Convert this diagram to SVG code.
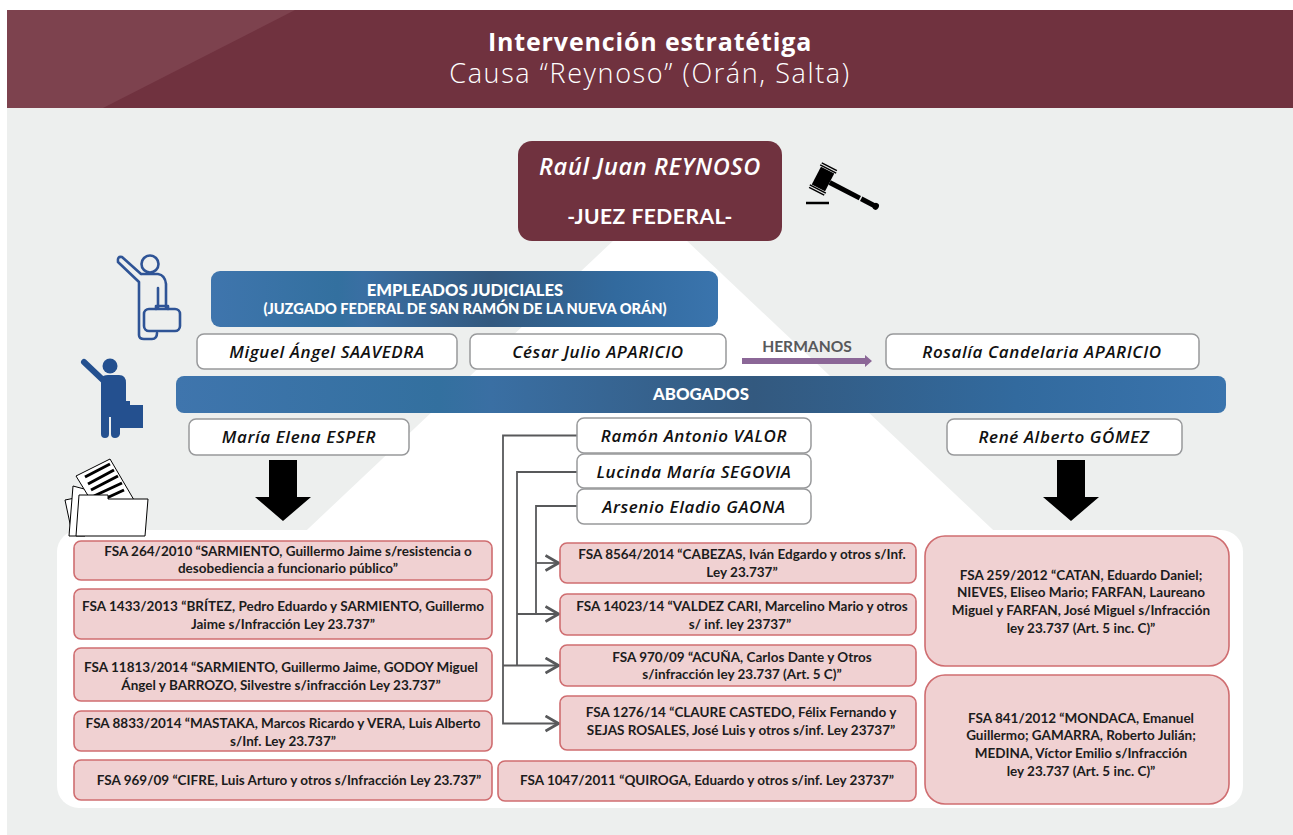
<svg xmlns="http://www.w3.org/2000/svg" width="1293" height="835" viewBox="0 0 1293 835">
<style>
text{font-family:"Lato","Liberation Sans",sans-serif;text-anchor:middle}
.case{fill:#f0d1d2;stroke:#cf6d70;stroke-width:1.6}
.case-t{font-size:13.5px;font-weight:700;fill:#1c1c1c}
.name{fill:#fff;stroke:#98999b;stroke-width:1.5}
.name-t{font-family:"Open Sans","Liberation Sans",sans-serif;font-size:17px;letter-spacing:.6px;font-weight:600;font-style:italic;fill:#111}
.hdr-t{font-weight:900;fill:#fff}
.conn{fill:none;stroke:#58595b;stroke-width:1.8}
.big{fill:#000}
.ttl{font-family:"Open Sans","Liberation Sans",sans-serif;fill:#fff}
</style>
<defs>
<linearGradient id="blue" x1="0" x2="1" y1="0" y2="0">
<stop offset="0" stop-color="#3f75ad"/><stop offset=".25" stop-color="#33709f"/><stop offset=".3" stop-color="#3a6fa3"/><stop offset=".55" stop-color="#33597f"/><stop offset=".8" stop-color="#326a9e"/><stop offset="1" stop-color="#3a74ad"/>
</linearGradient>
<marker id="open" markerUnits="userSpaceOnUse" markerWidth="16" markerHeight="18" refX="14.500" refY="9" orient="auto"><path d="M1 1.500L14 9L1 16.500" fill="none" stroke="#58595b" stroke-width="2.800"/></marker>
</defs>

<g id="background">
<rect x="7" y="108" width="1286" height="727" fill="#edefee"/>
<path d="M650 206L1009 545H291Z" fill="#fff"/>
<rect x="57" y="530" width="1186" height="278" rx="22" fill="#fff"/>
</g>

<g id="title">
<rect x="7" y="10" width="1286" height="98" fill="#70323f"/>
<path d="M7 10H295L103 108H7Z" fill="#7d424e"/>
<text class="ttl" x="650" y="51" font-size="25" font-weight="700" letter-spacing=".85">Intervención estratétiga</text>
<text class="ttl" x="650" y="83" font-size="27" font-weight="300" letter-spacing="1.600">Causa “Reynoso” (Orán, Salta)</text>
</g>

<g id="connectors">
<path class="conn" d="M577 435.500H503V723.500H559" marker-end="url(#open)"/>
<path class="conn" d="M577 472H517V665.500"/>
<path class="conn" d="M503 665.500H559" marker-end="url(#open)"/>
<path class="conn" d="M577 506H536V614"/>
<path class="conn" d="M517 614H559" marker-end="url(#open)"/>
<path class="conn" d="M536 563H559" marker-end="url(#open)"/>
<path d="M742 358H865V355L872 361L865 367V364H742Z" fill="#8b6797"/>
</g>

<g id="juez">
<rect x="518" y="141" width="264" height="100" rx="14" fill="#70323f"/>
<text class="ttl" x="650" y="175" font-size="23.500" font-weight="600" font-style="italic" letter-spacing=".65">Raúl Juan REYNOSO</text>
<text x="650" y="224" font-size="21px" font-weight="700" fill="#fff" letter-spacing=".5">-JUEZ FEDERAL-</text>
</g>
<g id="mazo">
<path d="M806 203H829" stroke="#000" stroke-width="2.500"/>
<g transform="translate(823 179) rotate(27.400)" fill="#000">
<rect x="-7.500" y="-10" width="15" height="20"/>
<rect x="-9" y="-12" width="18" height="1.500"/><rect x="-9" y="10.500" width="18" height="1.500"/>
<rect x="-8.500" y="-14.500" width="17" height="1.500"/><rect x="-8.500" y="13" width="17" height="1.500"/>
<rect x="7.500" y="-2.500" width="34" height="5"/>
<rect x="43" y="-2.500" width="15" height="5"/>
<ellipse cx="59.500" cy="0" rx="3" ry="3.500"/>
</g>
</g>

<g id="icono-empleado" fill="none" stroke="#2f5496" stroke-width="2.600" stroke-linejoin="round" stroke-linecap="round">
<circle cx="150" cy="264" r="8.500"/>
<path d="M141 274L122 257Q117 256 118 262L139 282V335Q139 339 144 339H152Q157 339 157 333M141 274H158Q165 275 166 284V308M158 288V308"/>
<rect x="144" y="309" width="36" height="22" rx="5"/>
<path d="M156 309V306H168V309"/>
</g>
<g id="icono-abogado" fill="#24508f">
<circle cx="110" cy="366" r="7.500"/>
<path d="M84 362L104 381" stroke="#24508f" stroke-width="6" stroke-linecap="round"/>
<path d="M101 378Q103 375 108 375H119Q126 375 126 383V401H130V405H143V428H120V434Q119 438 115 438Q111 438 111 434V417H109V434Q109 438 105 438Q101 438 101 434Z"/>
</g>
<g id="icono-carpeta" stroke="#000" stroke-width="1" fill="#fff">
<path d="M65 500L75 498L84 533H72Z"/>
<path d="M73 486L88 490L85 536H69Z"/>
<path d="M76 476L110 459L134 500L100 515Z"/>
<path d="M85 477L110 464M88 484L114 470M91 490L118 476M94 496L122 483M98 502L124 490" stroke-width="3"/>
<path d="M79 495H108V499H148L145 536H76Z"/>
</g>

<g id="empleados">
<rect x="211" y="271" width="507" height="56" rx="9" fill="url(#blue)"/>
<text x="465" y="296" font-size="16.600" class="hdr-t">EMPLEADOS JUDICIALES</text>
<text x="465" y="314" font-size="14.600" class="hdr-t">(JUZGADO FEDERAL DE SAN RAMÓN DE LA NUEVA ORÁN)</text>
</g>
<g id="saavedra"><rect class="name" x="197" y="334" width="260" height="35" rx="7"/><text class="name-t" x="327" y="358">Miguel Ángel SAAVEDRA</text></g>
<g id="aparicio-c"><rect class="name" x="470" y="334" width="256" height="35" rx="7"/><text class="name-t" x="598" y="358">César Julio APARICIO</text></g>
<g id="hermanos"><text x="807" y="352" font-size="15.600" font-weight="700" fill="#58595b">HERMANOS</text></g>
<g id="aparicio-r"><rect class="name" x="886" y="334" width="313" height="35" rx="7"/><text class="name-t" x="1042" y="358">Rosalía Candelaria APARICIO</text></g>

<g id="abogados">
<rect x="176" y="376" width="1050" height="37" rx="8" fill="url(#blue)"/>
<text x="701" y="400" font-size="16.800" class="hdr-t">ABOGADOS</text>
</g>
<g id="esper"><rect class="name" x="189" y="419" width="220" height="36" rx="7"/><text class="name-t" x="299" y="443">María Elena ESPER</text></g>
<g id="valor"><rect class="name" x="577" y="418" width="234" height="35" rx="7"/><text class="name-t" x="694" y="442">Ramón Antonio VALOR</text></g>
<g id="segovia"><rect class="name" x="577" y="454" width="234" height="34" rx="7"/><text class="name-t" x="694" y="478">Lucinda María SEGOVIA</text></g>
<g id="gaona"><rect class="name" x="577" y="489" width="234" height="35" rx="7"/><text class="name-t" x="694" y="513">Arsenio Eladio GAONA</text></g>
<g id="gomez"><rect class="name" x="947" y="419" width="235" height="36" rx="7"/><text class="name-t" x="1064" y="443">René Alberto GÓMEZ</text></g>

<g id="flecha-izq"><path class="big" d="M269 460H297V497H311L283 521L255 497H269Z"/></g>
<g id="flecha-der"><path class="big" d="M1057 460H1085V497H1099L1071 521L1043 497H1057Z"/></g>

<g id="c1"><rect class="case" x="74" y="541" width="418" height="39" rx="7"/><text class="case-t" x="288" y="556">FSA 264/2010 “SARMIENTO, Guillermo Jaime s/resistencia o</text><text class="case-t" x="288" y="573">desobediencia a funcionario público”</text></g>
<g id="c2"><rect class="case" x="74" y="589" width="418" height="50" rx="7"/><text class="case-t" x="283" y="611">FSA 1433/2013 “BRÍTEZ, Pedro Eduardo y SARMIENTO, Guillermo</text><text class="case-t" x="283" y="629">Jaime s/Infracción Ley 23.737”</text></g>
<g id="c3"><rect class="case" x="74" y="648" width="418" height="53" rx="7"/><text class="case-t" x="281" y="672">FSA 11813/2014 “SARMIENTO, Guillermo Jaime, GODOY Miguel</text><text class="case-t" x="281" y="690">Ángel y BARROZO, Silvestre s/infracción Ley 23.737”</text></g>
<g id="c4"><rect class="case" x="74" y="711" width="418" height="40" rx="7"/><text class="case-t" x="283" y="728">FSA 8833/2014 “MASTAKA, Marcos Ricardo y VERA, Luis Alberto</text><text class="case-t" x="283" y="746">s/Inf. Ley 23.737”</text></g>
<g id="c5"><rect class="case" x="74" y="760" width="418" height="40" rx="7"/><text class="case-t" x="289" y="785">FSA 969/09 “CIFRE, Luis Arturo y otros s/Infracción Ley 23.737”</text></g>
<g id="c6"><rect class="case" x="560" y="543" width="356" height="40" rx="7"/><text class="case-t" x="742" y="559">FSA 8564/2014 “CABEZAS, Iván Edgardo y otros s/Inf.</text><text class="case-t" x="742" y="577">Ley 23.737”</text></g>
<g id="c7"><rect class="case" x="560" y="594" width="356" height="41" rx="7"/><text class="case-t" x="742" y="611">FSA 14023/14 “VALDEZ CARI, Marcelino Mario y otros</text><text class="case-t" x="740" y="629">s/ inf. ley 23737”</text></g>
<g id="c8"><rect class="case" x="560" y="645" width="356" height="41" rx="7"/><text class="case-t" x="742" y="662">FSA 970/09 “ACUÑA, Carlos Dante y Otros</text><text class="case-t" x="742" y="679">s/infracción ley 23.737 (Art. 5 C)”</text></g>
<g id="c9"><rect class="case" x="560" y="696" width="356" height="54" rx="7"/><text class="case-t" x="741" y="717">FSA 1276/14 “CLAURE CASTEDO, Félix Fernando y</text><text class="case-t" x="741" y="735">SEJAS ROSALES, José Luis y otros s/inf. Ley 23737”</text></g>
<g id="c10"><rect class="case" x="498" y="761" width="418" height="40" rx="7"/><text class="case-t" x="707" y="785">FSA 1047/2011 “QUIROGA, Eduardo y otros s/inf. Ley 23737”</text></g>
<g id="c11"><rect class="case" x="925" y="536" width="304" height="130" rx="20"/><text class="case-t" x="1081" y="580">FSA 259/2012 “CATAN, Eduardo Daniel;</text><text class="case-t" x="1081" y="597">NIEVES, Eliseo Mario; FARFAN, Laureano</text><text class="case-t" x="1081" y="615">Miguel y FARFAN, José Miguel s/Infracción</text><text class="case-t" x="1081" y="633">ley 23.737 (Art. 5 inc. C)”</text></g>
<g id="c12"><rect class="case" x="925" y="675" width="304" height="129" rx="20"/><text class="case-t" x="1081" y="723">FSA 841/2012 “MONDACA, Emanuel</text><text class="case-t" x="1081" y="740">Guillermo; GAMARRA, Roberto Julián;</text><text class="case-t" x="1081" y="758">MEDINA, Víctor Emilio s/Infracción</text><text class="case-t" x="1081" y="776">ley 23.737 (Art. 5 inc. C)”</text></g>
</svg>
